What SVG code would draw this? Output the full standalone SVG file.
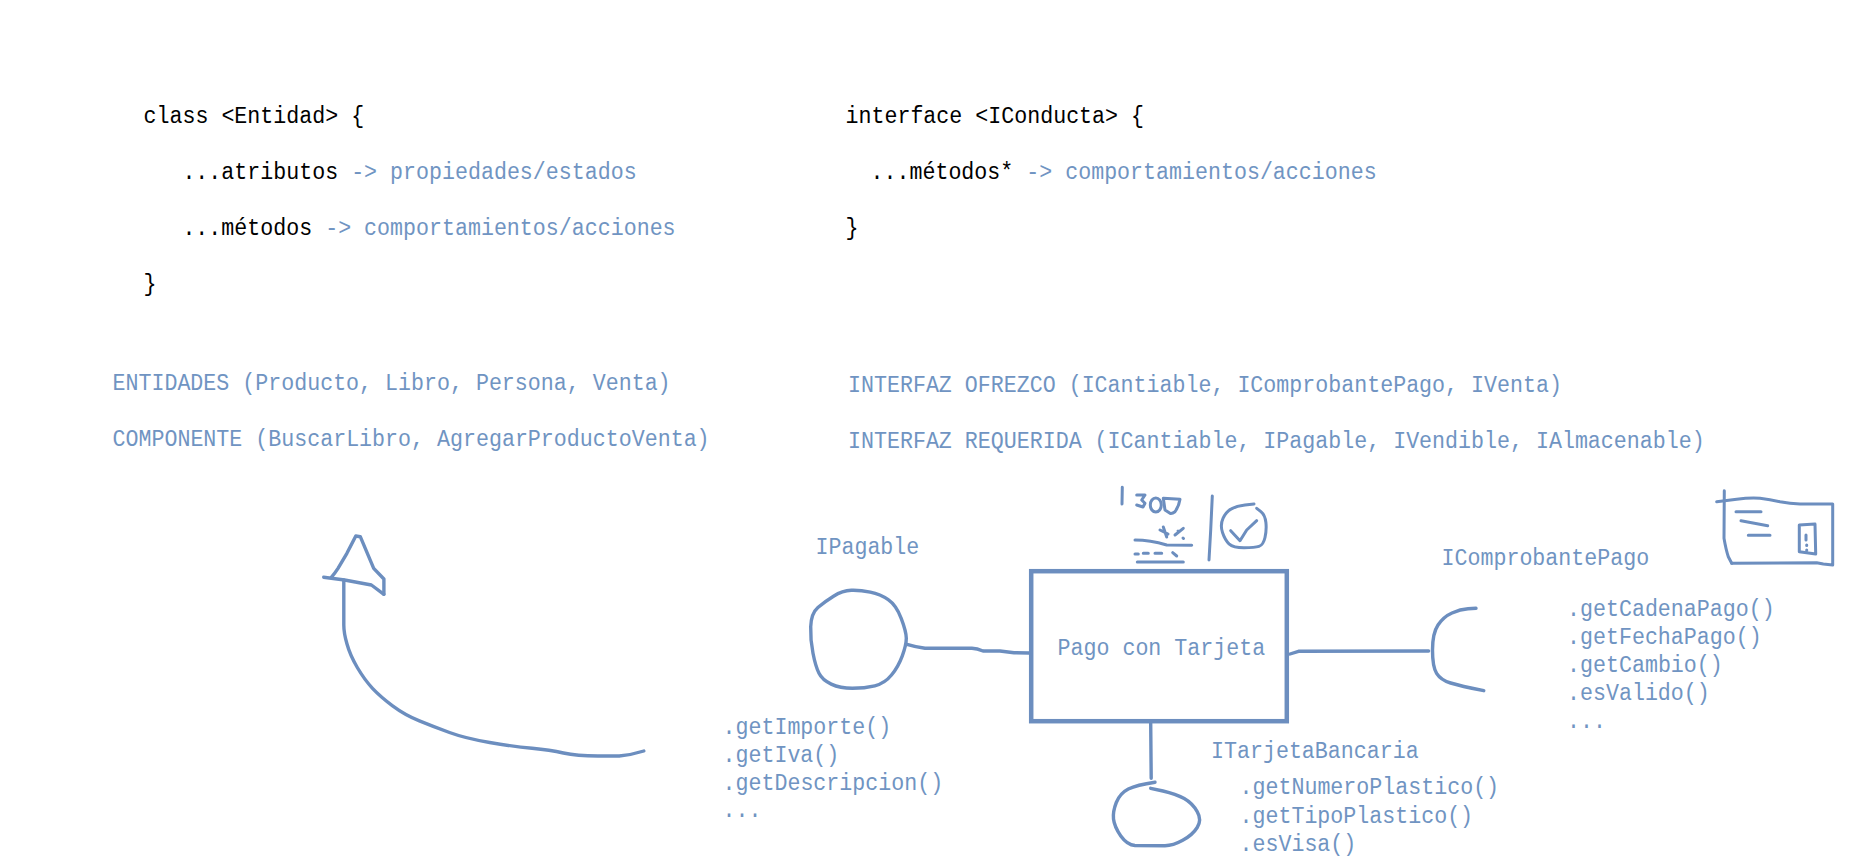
<svg xmlns="http://www.w3.org/2000/svg" width="1875" height="858" viewBox="0 0 1875 858">
<style>
text{font-family:"Liberation Mono","DejaVu Sans Mono",monospace;font-size:23.5px;fill:#7094c2;white-space:pre}
text.k{fill:#000}
tspan.b{fill:#7094c2}
.s{fill:none;stroke:#6c8ebf;stroke-width:3.4;stroke-linecap:round;stroke-linejoin:round}
.t{fill:none;stroke:#6c8ebf;stroke-width:3;stroke-linecap:round;stroke-linejoin:round}
</style>
<rect width="1875" height="858" fill="#fff"/>
<g id="class-template">
<text class="k" x="143.5" y="123" textLength="220.7" lengthAdjust="spacingAndGlyphs">class &lt;Entidad&gt; {</text>
<text class="k" x="182.4" y="179" textLength="454.3" lengthAdjust="spacingAndGlyphs">...atributos <tspan class="b">-&gt; propiedades/estados</tspan></text>
<text class="k" x="182.4" y="235" textLength="493.2" lengthAdjust="spacingAndGlyphs">...métodos <tspan class="b">-&gt; comportamientos/acciones</tspan></text>
<text class="k" x="143.5" y="291" textLength="13" lengthAdjust="spacingAndGlyphs">}</text>
</g>
<g id="interface-template">
<text class="k" x="845.5" y="123" textLength="298.5" lengthAdjust="spacingAndGlyphs">interface &lt;IConducta&gt; {</text>
<text class="k" x="870.5" y="179" textLength="506.2" lengthAdjust="spacingAndGlyphs">...métodos* <tspan class="b">-&gt; comportamientos/acciones</tspan></text>
<text class="k" x="845.5" y="235" textLength="13" lengthAdjust="spacingAndGlyphs">}</text>
</g>
<g id="notes-left">
<text x="112.5" y="390" textLength="558.1" lengthAdjust="spacingAndGlyphs">ENTIDADES (Producto, Libro, Persona, Venta)</text>
<text x="112.5" y="446" textLength="597.1" lengthAdjust="spacingAndGlyphs">COMPONENTE (BuscarLibro, AgregarProductoVenta)</text>
</g>
<g id="notes-right">
<text x="848" y="392" textLength="713.9" lengthAdjust="spacingAndGlyphs">INTERFAZ OFREZCO (ICantiable, IComprobantePago, IVenta)</text>
<text x="848" y="448" textLength="856.7" lengthAdjust="spacingAndGlyphs">INTERFAZ REQUERIDA (ICantiable, IPagable, IVendible, IAlmacenable)</text>
</g>
<g id="connectors">
<path class="s" d="M343.8 580L343.8 625Q343.8 633.3 347 644Q350 655 357.3 667.5Q364.7 680 372.5 688.3Q380.4 696.7 392.6 705.8Q404.9 715 419.4 720.8Q433.9 726.7 449.5 732.5Q465.2 738.3 489.7 742.5Q514.3 746.7 532.1 748.3Q550 750 563.4 753Q576.8 756 598 756L619.2 756Q631 755 643.8 751"/>
<path class="s" d="M907 644.3Q916 647 925 648.3L971.9 648.3Q977 648.6 983 651L1000 651L1014 652.7L1029 653"/>
<path class="s" d="M1290 654L1298.5 651.3L1428.6 651"/>
<path class="s" d="M1150.7 723.3L1151.2 778.3"/>
</g>
<g id="arrowhead">
<path class="s" d="M331.3 577.3Q335 573 338 568.3L346.9 553.3L355.8 536L360.3 536.7L373.7 568.3L383.9 579L383.9 594.3"/>
<path class="s" d="M323.7 577.3L344.6 580L371.4 585L383.9 594.3"/>
</g>
<g id="ipagable">
<path class="s" d="M851.3 590.3Q860.3 590 870.3 592.2Q880.4 594.3 888.2 599.7Q896 605 901.2 618.3Q906.3 631.7 906.3 638.3Q906.3 645 902.3 655.8Q898.3 666.7 891.5 675Q884.8 683.3 874.8 685.8Q864.7 688.3 852.4 688.3Q840.2 688.3 831.2 684.1Q822.3 680 819 673.3Q815.6 666.7 813 653.3Q810.3 640 810.7 626.7Q811.2 613.3 817.9 607.5Q824.6 601.7 833.5 596.2Q842.4 590.7 851.3 590.3Z"/>
<text x="815.5" y="554" textLength="103.8" lengthAdjust="spacingAndGlyphs">IPagable</text>
<text x="722.5" y="734" textLength="168.7" lengthAdjust="spacingAndGlyphs">.getImporte()</text>
<text x="722.5" y="762" textLength="116.8" lengthAdjust="spacingAndGlyphs">.getIva()</text>
<text x="722.5" y="789.5" textLength="220.7" lengthAdjust="spacingAndGlyphs">.getDescripcion()</text>
<text x="722.5" y="817" textLength="38.9" lengthAdjust="spacingAndGlyphs">...</text>
</g>
<g id="pago-con-tarjeta">
<rect x="1031.2" y="571.2" width="255.6" height="150" fill="none" stroke="#6c8ebf" stroke-width="4.5"/>
<text x="1057.5" y="655" textLength="207.7" lengthAdjust="spacingAndGlyphs">Pago con Tarjeta</text>
</g>
<g id="icomprobantepago">
<path class="s" d="M1476 608.3L1468 608.8Q1460.4 609.3 1452 613Q1443.6 616.7 1438 625Q1432.5 633.3 1432.5 650Q1432.5 666.7 1436.6 673.3Q1440.8 680 1450.6 683Q1460.4 686 1483.8 690.7"/>
<text x="1441.5" y="565" textLength="207.7" lengthAdjust="spacingAndGlyphs">IComprobantePago</text>
<text x="1567" y="616" textLength="207.7" lengthAdjust="spacingAndGlyphs">.getCadenaPago()</text>
<text x="1567" y="644" textLength="194.7" lengthAdjust="spacingAndGlyphs">.getFechaPago()</text>
<text x="1567" y="672" textLength="155.8" lengthAdjust="spacingAndGlyphs">.getCambio()</text>
<text x="1567" y="700" textLength="142.8" lengthAdjust="spacingAndGlyphs">.esValido()</text>
<text x="1567" y="728" textLength="38.9" lengthAdjust="spacingAndGlyphs">...</text>
</g>
<g id="itarjetabancaria">
<path class="s" d="M1155 782.3Q1136.7 785 1128.3 789Q1120 793.3 1116.3 802.5Q1112.7 811.7 1113.5 819Q1114.4 826.7 1120.8 836Q1127.2 845 1135 845.5L1165 845.7Q1173 845.7 1182.7 840.3Q1192.5 835 1197.2 827.5Q1202 820 1197.2 811.7Q1192.5 803.3 1184.2 798.6Q1175.8 794 1163 791L1150.7 788.3"/>
<text x="1211" y="758" textLength="207.7" lengthAdjust="spacingAndGlyphs">ITarjetaBancaria</text>
<text x="1239.5" y="794" textLength="259.6" lengthAdjust="spacingAndGlyphs">.getNumeroPlastico()</text>
<text x="1239.5" y="822.5" textLength="233.6" lengthAdjust="spacingAndGlyphs">.getTipoPlastico()</text>
<text x="1239.5" y="851" textLength="116.8" lengthAdjust="spacingAndGlyphs">.esVisa()</text>
</g>
<g id="sketch-pos">
<path class="t" d="M1122.3 487.3L1122 504"/>
<path class="t" d="M1136.7 495L1145 495L1141.7 500L1145 503.3L1143 507L1136.7 505"/>
<ellipse class="t" cx="1155.8" cy="505" rx="5.5" ry="7"/>
<path class="t" d="M1163.3 498.3L1180 499.3Q1179 506 1175 511.7Q1172 514 1170 513.3L1165 510Z"/>
<path class="t" d="M1212.3 496L1210.7 530L1209 560"/>
<path class="t" d="M1254 504L1245 505Q1236.7 506 1231.4 508.9Q1226 511.7 1223 518.4Q1220 525 1222.5 532.5Q1225 540 1229 543.8Q1233.3 547.7 1244 547.7Q1255 547.7 1259 546.4Q1263.3 545 1265 537.5Q1266.7 530 1265.9 522.5Q1265 515 1260.9 511.7L1256.7 508.3"/>
<path class="t" d="M1230.7 530.7L1240 540.7L1246.7 530L1256.7 520.7"/>
<path class="t" d="M1160 530L1168 534M1163.3 527L1166.7 537M1175 535L1183.3 528.3M1178 531L1178.5 531.5M1183 538L1183.5 538.5"/>
<path class="t" d="M1135 540Q1150 540 1166.7 545L1191.7 545.3"/>
<path class="t" d="M1135 554L1138.3 554M1143.3 553.3L1148.3 553.3M1155 553.3L1161.7 553.3M1172.7 552.7L1176.7 556"/>
<path class="t" d="M1137.3 562L1183.3 562"/>
</g>
<g id="sketch-receipt">
<path class="t" d="M1724.3 490.7L1724 538.3Q1726 550 1728.3 556.7L1731.7 563.3"/>
<path class="t" d="M1716.7 501.7L1736.7 499.3Q1750 497.5 1760 498.3Q1770 499.5 1780 501.7Q1790 503.5 1800 504L1832.7 504L1832.7 565L1823.3 564L1816.7 562.7L1731.7 563.3"/>
<path class="t" d="M1736 511.7L1761 511.7M1741 520.7L1767.7 525.7M1748.3 535.3L1770 535.3"/>
<path class="t" d="M1799.3 525L1815 524L1815.7 554L1799.3 551.7Z"/>
<path class="t" d="M1806 535L1806 540M1806.7 545L1806.7 545.5M1806.7 550L1806.7 550.5"/>
</g>
</svg>
